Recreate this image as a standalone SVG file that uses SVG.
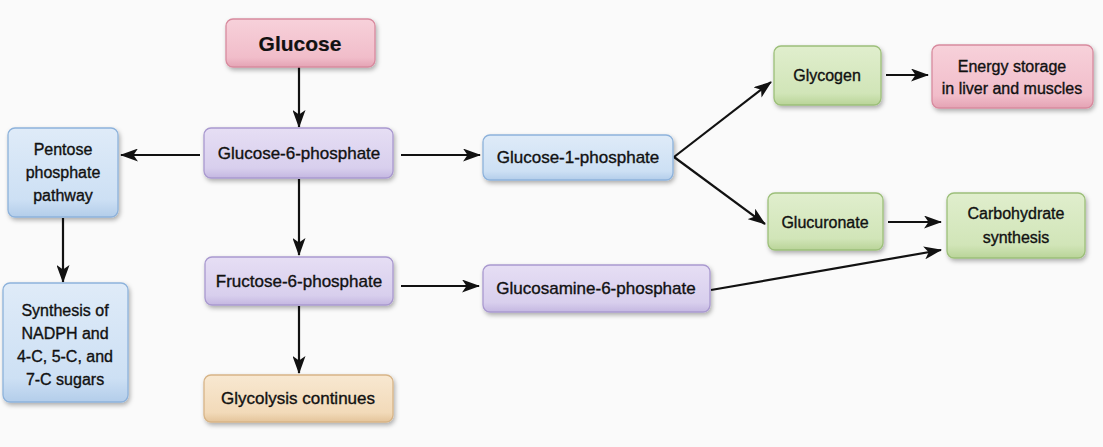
<svg xmlns="http://www.w3.org/2000/svg" width="1103" height="447" viewBox="0 0 1103 447">
<defs>
<style>
text{font-family:"Liberation Sans",Arial,sans-serif;font-size:16px;fill:#111;stroke:#111;stroke-width:0.35;text-anchor:middle;dominant-baseline:central}
.t17{font-size:17px}
.big{font-size:21px;font-weight:bold;stroke-width:0.2}
.box{stroke-width:1.3;filter:url(#sh)}
.pink{fill:url(#gPink);stroke:#d88a9e}
.purple{fill:url(#gPurple);stroke:#a999cf}
.blue{fill:url(#gBlue);stroke:#8db2db}
.green{fill:url(#gGreen);stroke:#9cbf79}
.tan{fill:url(#gTan);stroke:#d7b487}
.conn{stroke:#111;stroke-width:2.2;fill:none;marker-end:url(#ah)}
</style>
<filter id="sh" x="-10%" y="-10%" width="125%" height="135%">
<feDropShadow dx="1.5" dy="2.5" stdDeviation="2" flood-color="#000" flood-opacity="0.3"/>
</filter>
<linearGradient id="gPink" x1="0" y1="0" x2="0" y2="1"><stop offset="0" stop-color="#f7d1da"/><stop offset="0.8" stop-color="#f1bdca"/><stop offset="1" stop-color="#e4a3b4"/></linearGradient>
<linearGradient id="gPurple" x1="0" y1="0" x2="0" y2="1"><stop offset="0" stop-color="#e6def4"/><stop offset="0.8" stop-color="#d8cfed"/><stop offset="1" stop-color="#c4b7e1"/></linearGradient>
<linearGradient id="gBlue" x1="0" y1="0" x2="0" y2="1"><stop offset="0" stop-color="#dfebf8"/><stop offset="0.8" stop-color="#cde0f4"/><stop offset="1" stop-color="#b3cdea"/></linearGradient>
<linearGradient id="gGreen" x1="0" y1="0" x2="0" y2="1"><stop offset="0" stop-color="#e0eecd"/><stop offset="0.8" stop-color="#d1e5b8"/><stop offset="1" stop-color="#b9d498"/></linearGradient>
<linearGradient id="gTan" x1="0" y1="0" x2="0" y2="1"><stop offset="0" stop-color="#f8e8d1"/><stop offset="0.8" stop-color="#f2dab9"/><stop offset="1" stop-color="#e4c49a"/></linearGradient>
<marker id="ah" viewBox="0 0 18 13" refX="17" refY="6.5" markerWidth="18" markerHeight="13" markerUnits="userSpaceOnUse" orient="auto">
<path d="M0,0 L18,6.5 L0,13 L4.5,6.5 z" fill="#111"/>
</marker>
</defs>
<rect width="1103" height="447" fill="#fafafa"/>

<g id="connectors">
<line class="conn" x1="299" y1="67" x2="299" y2="127"/>
<line class="conn" x1="200" y1="155" x2="121" y2="155"/>
<line class="conn" x1="63" y1="218" x2="63" y2="282"/>
<line class="conn" x1="401" y1="155" x2="480" y2="155"/>
<line class="conn" x1="299" y1="179" x2="299" y2="255"/>
<line class="conn" x1="299" y1="306" x2="299" y2="373"/>
<line class="conn" x1="401" y1="286" x2="479" y2="286"/>
<line class="conn" x1="674" y1="157" x2="771" y2="82"/>
<line class="conn" x1="674" y1="157" x2="765" y2="224"/>
<line class="conn" x1="886" y1="75" x2="928" y2="75"/>
<line class="conn" x1="888" y1="222" x2="941" y2="222"/>
<line class="conn" x1="711" y1="290" x2="941" y2="250"/>
</g>

<g id="glucose"><rect class="box pink" x="226" y="19" width="149" height="48" rx="7"/><text class="big" x="300" y="43">Glucose</text></g>
<g id="g6p"><rect class="box purple" x="204" y="128" width="189" height="50" rx="7"/><text class="t17" x="299" y="153">Glucose-6-phosphate</text></g>
<g id="pentose"><rect class="box blue" x="8" y="128" width="110" height="89" rx="7"/><text x="63" y="149">Pentose</text><text x="63" y="172">phosphate</text><text x="63" y="195">pathway</text></g>
<g id="synthesis"><rect class="box blue" x="3" y="283" width="125" height="119" rx="7"/><text x="65" y="310">Synthesis of</text><text x="65" y="333">NADPH and</text><text x="65" y="356">4-C, 5-C, and</text><text x="65" y="379">7-C sugars</text></g>
<g id="f6p"><rect class="box purple" x="205" y="257" width="188" height="48" rx="7"/><text class="t17" x="299" y="281">Fructose-6-phosphate</text></g>
<g id="glycolysis"><rect class="box tan" x="204" y="375" width="189" height="47" rx="7"/><text class="t17" x="298" y="398">Glycolysis continues</text></g>
<g id="g1p"><rect class="box blue" x="483" y="135" width="190" height="45" rx="7"/><text class="t17" x="578" y="157">Glucose-1-phosphate</text></g>
<g id="glucosamine"><rect class="box purple" x="483" y="265" width="227" height="47" rx="7"/><text class="t17" x="596" y="288">Glucosamine-6-phosphate</text></g>
<g id="glycogen"><rect class="box green" x="774" y="46" width="107" height="59" rx="7"/><text x="827" y="75">Glycogen</text></g>
<g id="energy"><rect class="box pink" x="932" y="45" width="161" height="63" rx="7"/><text x="1012" y="66">Energy storage</text><text x="1012" y="88">in liver and muscles</text></g>
<g id="glucuronate"><rect class="box green" x="768" y="193" width="115" height="57" rx="7"/><text x="825" y="222">Glucuronate</text></g>
<g id="carbohydrate"><rect class="box green" x="947" y="193" width="138" height="65" rx="7"/><text x="1016" y="213">Carbohydrate</text><text x="1016" y="237">synthesis</text></g>
</svg>
